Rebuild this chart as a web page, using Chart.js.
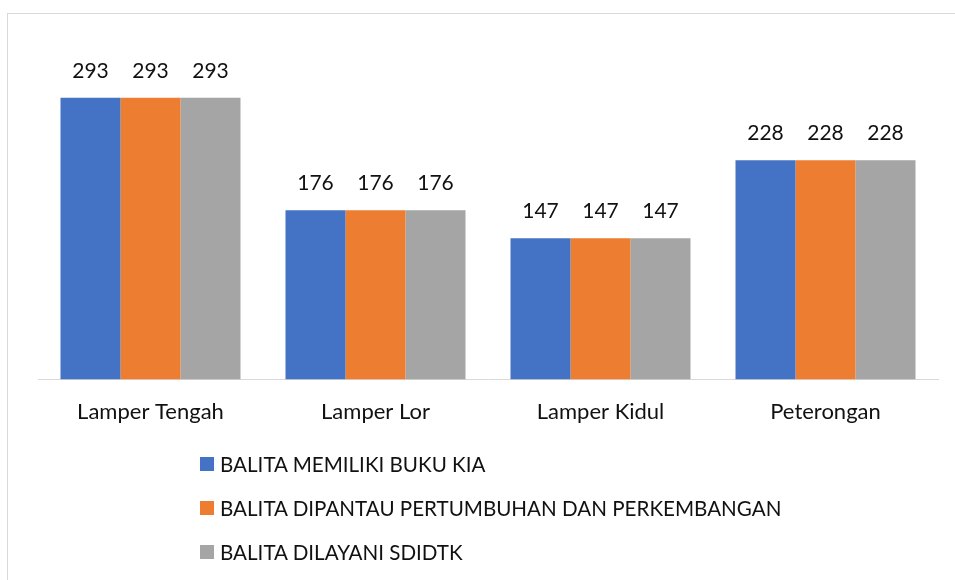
<!DOCTYPE html>
<html>
<head>
<meta charset="utf-8">
<script src="https://cdn.jsdelivr.net/npm/chart.js@4.4.1/dist/chart.umd.min.js"></script>
<style>
  html, body { margin: 0; padding: 0; background: #fff; overflow: hidden; }
  #frame {
    position: absolute; left: 7px; top: 13px; width: 1000px; height: 700px;
    border: 1px solid #d9d9d9; box-sizing: border-box;
  }
  #wrap { position: absolute; left: 0; top: 0; width: 955px; height: 580px; }
  #legenda {
    position: absolute; left: 200px; top: 442px;
    font-family: Lato, sans-serif; font-size: 20.6px; color: #111;
  }
  .leg-item { display: flex; align-items: center; height: 44px; }
  .leg-cor { width: 14px; height: 14px; margin-right: 6px; }
</style>
</head>
<body>
<div id="frame"></div>
<div id="wrap"><canvas id="grafico" width="955" height="580"></canvas></div>
<div id="legenda"></div>

<script>
// dados
const categorias = ["Lamper Tengah", "Lamper Lor", "Lamper Kidul", "Peterongan"];
const nomesSeries = [
    "BALITA MEMILIKI BUKU KIA",
    "BALITA DIPANTAU PERTUMBUHAN DAN PERKEMBANGAN",
    "BALITA DILAYANI SDIDTK"
];
const bukuKia = [293, 176, 147, 228];
const dipantau = [293, 176, 147, 228];
const sdidtk = [293, 176, 147, 228];
const cores = ["#4472C4", "#ED7D31", "#A5A5A5"];

const FONTE = "Lato, sans-serif";

// rótulos de valor acima das barras
const rotulosPlugin = {
    id: "rotulos",
    afterDatasetsDraw(chart) {
        let ctx = chart.ctx;
        ctx.save();
        ctx.font = "21px " + FONTE;
        ctx.fillStyle = "#111";
        ctx.textAlign = "center";
        ctx.textBaseline = "middle";
        chart.data.datasets.forEach((ds, i) => {
            chart.getDatasetMeta(i).data.forEach((bar, j) => {
                ctx.fillText(ds.data[j], bar.x, bar.y - 27);
            });
        });
        ctx.restore();
    }
};

let series = [bukuKia, dipantau, sdidtk];

let grafico = new Chart(document.getElementById("grafico"), {
    type: "bar",
    data: {
        labels: categorias,
        datasets: series.map((s, i) => ({
            label: nomesSeries[i],
            data: s,
            backgroundColor: cores[i],
            borderWidth: 0,
            categoryPercentage: 0.8,
            barPercentage: 1.0
        }))
    },
    options: {
        responsive: false,
        animation: false,
        layout: { padding: { left: 38, right: 17, top: 43, bottom: 136 } },
        plugins: {
            legend: { display: false },
            tooltip: { enabled: false }
        },
        scales: {
            x: {
                grid: { display: false, drawTicks: false },
                border: { display: true, color: "#d9d9d9", width: 1 },
                ticks: { color: "#111", font: { family: FONTE, size: 22 }, padding: 19 }
            },
            y: {
                display: false,
                min: 0,
                max: 350
            }
        }
    },
    plugins: [rotulosPlugin]
});

// legenda
let leg = document.getElementById("legenda");
leg.innerHTML = nomesSeries.map((n, i) =>
    `<div class="leg-item"><div class="leg-cor" style="background:${cores[i]}"></div><span>${n}</span></div>`
).join("");
</script>
</body>
</html>
